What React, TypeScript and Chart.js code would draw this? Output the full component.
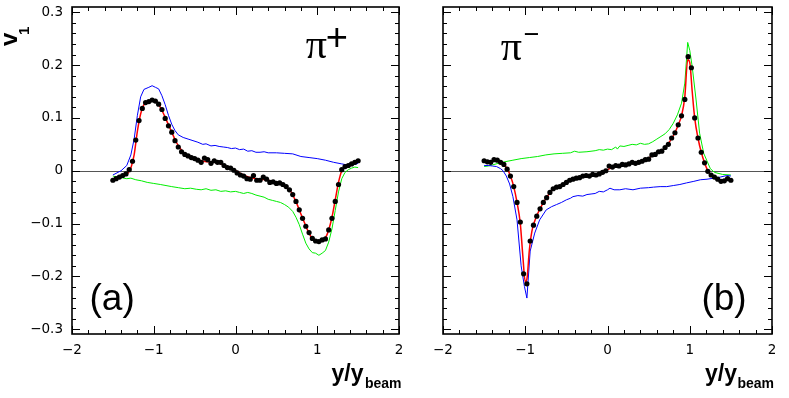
import React, { useEffect, useRef } from 'react';
import { Chart, registerables } from 'chart.js';

Chart.register(...registerables);

// ---------- data ----------
const binX = [
  -1.50, -1.46, -1.42, -1.38, -1.34, -1.30, -1.26, -1.22, -1.18, -1.14, -1.10, -1.06, -1.02, -0.98, -0.94, -0.90, -0.86, -0.82, -0.78,
  -0.74, -0.70, -0.66, -0.62, -0.58, -0.54, -0.50, -0.46, -0.42, -0.38, -0.34, -0.30, -0.26, -0.22, -0.18, -0.14, -0.10, -0.06, -0.02,
  0.02, 0.06, 0.10, 0.14, 0.18, 0.22, 0.26, 0.30, 0.34, 0.38, 0.42, 0.46, 0.50, 0.54, 0.58, 0.62, 0.66, 0.70, 0.74, 0.78,
  0.82, 0.86, 0.90, 0.94, 0.98, 1.02, 1.06, 1.10, 1.14, 1.18, 1.22, 1.26, 1.30, 1.34, 1.38, 1.42, 1.46, 1.50,
];

const piPlusV1 = [
  -0.018, -0.015, -0.012, -0.009, -0.006, 0.002, 0.018, 0.058, 0.095, 0.118, 0.129, 0.131, 0.134, 0.132, 0.126, 0.116, 0.099, 0.085, 0.073,
  0.057, 0.045, 0.036, 0.031, 0.028, 0.025, 0.023, 0.020, 0.016, 0.024, 0.021, 0.014, 0.019, 0.016, 0.016, 0.010, 0.006, 0.005, 0.001,
  -0.004, -0.008, -0.010, -0.015, -0.016, -0.009, -0.018, -0.018, -0.012, -0.016, -0.022, -0.021, -0.024, -0.023, -0.026, -0.030, -0.036, -0.045, -0.058, -0.074,
  -0.090, -0.105, -0.117, -0.128, -0.133, -0.134, -0.131, -0.129, -0.112, -0.090, -0.058, -0.026, 0.002, 0.008, 0.010, 0.013, 0.016, 0.019,
];

const piMinusV1 = [
  0.019, 0.017, 0.016, 0.021, 0.020, 0.016, 0.012, 0.003, -0.010, -0.030, -0.060, -0.097, -0.195, -0.214, -0.133, -0.103, -0.086, -0.072, -0.060,
  -0.051, -0.041, -0.034, -0.031, -0.030, -0.026, -0.022, -0.018, -0.016, -0.014, -0.013, -0.010, -0.009, -0.010, -0.007, -0.008, -0.006, -0.003, 0.000,
  0.009, 0.007, 0.010, 0.009, 0.012, 0.011, 0.013, 0.016, 0.014, 0.016, 0.018, 0.021, 0.022, 0.030, 0.031, 0.036, 0.037, 0.044, 0.050, 0.062,
  0.072, 0.087, 0.104, 0.135, 0.216, 0.195, 0.100, 0.062, 0.035, 0.015, -0.001, -0.008, -0.012, -0.016, -0.020, -0.019, -0.015, -0.018,
];

// fit curves (red)
const piPlusFitX = [-1.50, -1.40, -1.32, -1.28, -1.24, -1.20, -1.16, -1.12, -1.06, -1.00, -0.96, -0.92, -0.88, -0.84, -0.80, -0.76, -0.72, -0.68, -0.64, -0.58, -0.50, -0.42, -0.34, -0.26, -0.18, -0.10, -0.02, 0.06, 0.14, 0.22, 0.30, 0.40, 0.50, 0.58, 0.64, 0.68, 0.72, 0.76, 0.80, 0.84, 0.88, 0.92, 0.96, 1.00, 1.06, 1.10, 1.14, 1.18, 1.22, 1.26, 1.30, 1.34, 1.42, 1.50];
const piPlusFitY = [-0.018, -0.012, -0.005, 0.005, 0.030, 0.075, 0.108, 0.125, 0.132, 0.134, 0.130, 0.120, 0.108, 0.094, 0.080, 0.066, 0.053, 0.043, 0.035, 0.029, 0.024, 0.019, 0.017, 0.016, 0.013, 0.007, 0.002, -0.005, -0.011, -0.014, -0.016, -0.018, -0.022, -0.027, -0.033, -0.040, -0.052, -0.066, -0.082, -0.097, -0.112, -0.124, -0.131, -0.134, -0.132, -0.127, -0.112, -0.088, -0.055, -0.022, 0.000, 0.008, 0.013, 0.019];

const piMinusFitX = [-1.50, -1.44, -1.38, -1.32, -1.26, -1.22, -1.18, -1.14, -1.10, -1.06, -1.03, -1.00, -0.98, -0.95, -0.92, -0.88, -0.84, -0.80, -0.76, -0.72, -0.68, -0.62, -0.56, -0.48, -0.40, -0.30, -0.20, -0.10, 0.00, 0.10, 0.20, 0.30, 0.40, 0.48, 0.56, 0.64, 0.70, 0.76, 0.82, 0.86, 0.90, 0.94, 0.975, 1.00, 1.03, 1.06, 1.10, 1.14, 1.18, 1.22, 1.28, 1.36, 1.44, 1.50];
const piMinusFitY = [0.018, 0.018, 0.019, 0.018, 0.012, 0.004, -0.010, -0.030, -0.060, -0.100, -0.160, -0.210, -0.205, -0.150, -0.115, -0.093, -0.078, -0.066, -0.055, -0.046, -0.038, -0.031, -0.027, -0.020, -0.015, -0.011, -0.008, -0.005, 0.002, 0.009, 0.012, 0.015, 0.017, 0.022, 0.030, 0.036, 0.044, 0.056, 0.072, 0.087, 0.104, 0.140, 0.210, 0.205, 0.150, 0.100, 0.062, 0.035, 0.015, 0.000, -0.010, -0.017, -0.018, -0.018];

// model curves (blue / green)
const piPlusBlueX = [-1.50, -1.40, -1.33, -1.28, -1.24, -1.20, -1.16, -1.12, -1.06, -1.02, -0.98, -0.94, -0.90, -0.86, -0.82, -0.78, -0.74, -0.70, -0.64, -0.58, -0.52, -0.46, -0.40, -0.36, -0.30, -0.25, -0.20, -0.15, -0.10, -0.05, 0.00, 0.05, 0.10, 0.15, 0.20, 0.25, 0.30, 0.35, 0.40, 0.50, 0.60, 0.70, 0.80, 0.90, 1.00, 1.10, 1.20, 1.30, 1.40, 1.46, 1.50];
const piPlusBlueY = [-0.008, 0.000, 0.010, 0.030, 0.060, 0.105, 0.140, 0.154, 0.158, 0.161, 0.158, 0.155, 0.142, 0.125, 0.105, 0.088, 0.076, 0.068, 0.063, 0.060, 0.057, 0.054, 0.050, 0.051, 0.047, 0.048, 0.046, 0.045, 0.044, 0.042, 0.043, 0.040, 0.041, 0.037, 0.038, 0.035, 0.035, 0.036, 0.034, 0.034, 0.033, 0.032, 0.027, 0.025, 0.023, 0.020, 0.016, 0.013, 0.010, 0.012, 0.014];

const piPlusGreenX = [-1.50, -1.45, -1.40, -1.33, -1.28, -1.22, -1.15, -1.08, -1.00, -0.92, -0.85, -0.78, -0.70, -0.62, -0.55, -0.48, -0.42, -0.36, -0.30, -0.24, -0.18, -0.12, -0.06, 0.00, 0.05, 0.10, 0.15, 0.20, 0.25, 0.30, 0.35, 0.40, 0.45, 0.50, 0.55, 0.60, 0.65, 0.70, 0.74, 0.78, 0.82, 0.86, 0.90, 0.94, 0.98, 1.02, 1.06, 1.10, 1.14, 1.18, 1.22, 1.26, 1.30, 1.34, 1.38, 1.42, 1.46, 1.50];
const piPlusGreenY = [-0.010, -0.012, -0.013, -0.015, -0.014, -0.017, -0.019, -0.022, -0.024, -0.026, -0.028, -0.030, -0.032, -0.034, -0.033, -0.035, -0.036, -0.034, -0.037, -0.036, -0.039, -0.038, -0.040, -0.039, -0.041, -0.043, -0.041, -0.043, -0.046, -0.048, -0.050, -0.054, -0.056, -0.058, -0.060, -0.064, -0.069, -0.077, -0.088, -0.102, -0.120, -0.137, -0.148, -0.155, -0.156, -0.160, -0.156, -0.151, -0.135, -0.110, -0.075, -0.040, -0.015, -0.003, 0.002, 0.005, 0.007, 0.006];

const piMinusBlueX = [-1.50, -1.45, -1.40, -1.35, -1.30, -1.27, -1.23, -1.19, -1.15, -1.10, -1.05, -1.01, -0.98, -0.94, -0.885, -0.825, -0.745, -0.68, -0.62, -0.56, -0.50, -0.45, -0.42, -0.36, -0.30, -0.25, -0.20, -0.15, -0.10, -0.05, 0.00, 0.03, 0.08, 0.15, 0.22, 0.31, 0.40, 0.50, 0.56, 0.64, 0.72, 0.80, 0.88, 0.96, 1.05, 1.13, 1.21, 1.29, 1.37, 1.45, 1.50];
const piMinusBlueY = [0.010, 0.010, 0.009, 0.008, 0.004, 0.000, -0.010, -0.025, -0.049, -0.093, -0.180, -0.219, -0.241, -0.152, -0.118, -0.093, -0.074, -0.068, -0.064, -0.060, -0.055, -0.052, -0.049, -0.047, -0.048, -0.045, -0.044, -0.043, -0.039, -0.040, -0.036, -0.033, -0.036, -0.036, -0.034, -0.036, -0.033, -0.032, -0.031, -0.030, -0.030, -0.028, -0.026, -0.023, -0.020, -0.017, -0.016, -0.014, -0.012, -0.009, -0.010];

const piMinusGreenX = [-1.50, -1.45, -1.40, -1.33, -1.25, -1.15, -1.05, -0.95, -0.85, -0.75, -0.65, -0.55, -0.45, -0.40, -0.35, -0.25, -0.15, -0.10, -0.05, 0.00, 0.05, 0.10, 0.12, 0.15, 0.20, 0.25, 0.30, 0.35, 0.40, 0.45, 0.50, 0.55, 0.60, 0.65, 0.70, 0.75, 0.80, 0.85, 0.90, 0.94, 0.975, 1.00, 1.03, 1.077, 1.12, 1.17, 1.25, 1.30, 1.40, 1.50];
const piMinusGreenY = [0.008, 0.009, 0.011, 0.014, 0.017, 0.020, 0.023, 0.025, 0.027, 0.030, 0.032, 0.033, 0.034, 0.037, 0.035, 0.036, 0.038, 0.040, 0.039, 0.041, 0.040, 0.045, 0.041, 0.047, 0.046, 0.048, 0.050, 0.049, 0.052, 0.050, 0.051, 0.055, 0.060, 0.065, 0.070, 0.078, 0.090, 0.106, 0.128, 0.166, 0.243, 0.228, 0.197, 0.134, 0.071, 0.033, 0.004, -0.003, -0.007, -0.008];

// axes
const xTickValues = [-2, -1, 0, 1, 2];
const xTickLabels = ['\u22122', '\u22121', '0', '1', '2'];
const yTickValues = [-0.3, -0.2, -0.1, 0, 0.1, 0.2, 0.3];
const yTickLabels = ['\u22120.3', '\u22120.2', '\u22120.1', '0', '0.1', '0.2', '0.3'];
const xRange = [-2, 2];
const yRange = [-0.309, 0.31];
const xMinorStep = 0.2;
const yMinorStep = 0.02;

const pts = (xs: number[], ys: number[]) => xs.map((x, i) => ({ x, y: ys[i] }));

const framePlugin = {
  id: 'frameTicks',
  beforeDatasetsDraw(chart: any) {
    const { ctx, chartArea: a, scales } = chart;
    const y0 = Math.round(scales.y.getPixelForValue(0)) + 0.5;
    ctx.save();
    ctx.strokeStyle = '#555';
    ctx.lineWidth = 1;
    ctx.beginPath();
    ctx.moveTo(a.left, y0);
    ctx.lineTo(a.right, y0);
    ctx.stroke();
    ctx.restore();
  },
  afterDraw(chart: any) {
    const { ctx, chartArea: a, scales } = chart;
    const xs = scales.x;
    const ys = scales.y;
    ctx.save();
    ctx.strokeStyle = '#000';
    ctx.lineWidth = 1;
    ctx.beginPath();
    const nx = Math.round((xRange[1] - xRange[0]) / xMinorStep);
    for (let i = 0; i <= nx; i++) {
      const v = xRange[0] + i * xMinorStep;
      const major = Math.abs(v - Math.round(v)) < 1e-6;
      const len = major ? 8 : 4;
      const px = Math.round(xs.getPixelForValue(v)) + 0.5;
      ctx.moveTo(px, a.bottom);
      ctx.lineTo(px, a.bottom - len);
      ctx.moveTo(px, a.top);
      ctx.lineTo(px, a.top + len);
    }
    const ny = Math.round(0.6 / yMinorStep);
    for (let i = 0; i <= ny; i++) {
      const v = -0.3 + i * yMinorStep;
      const major = Math.abs(v * 10 - Math.round(v * 10)) < 1e-6;
      const len = major ? 8 : 4;
      const py = Math.round(ys.getPixelForValue(v)) + 0.5;
      ctx.moveTo(a.left, py);
      ctx.lineTo(a.left + len, py);
      ctx.moveTo(a.right, py);
      ctx.lineTo(a.right - len, py);
    }
    ctx.stroke();
    ctx.lineWidth = 1.6;
    ctx.strokeRect(a.left, a.top, a.right - a.left, a.bottom - a.top);
    ctx.restore();
  },
};

const tickFont = { family: 'DejaVu Sans', size: 13.5 };

function buildChart(canvas: HTMLCanvasElement, opt: {
  points: number[]; fitX: number[]; fitY: number[]; blueX: number[]; blueY: number[]; greenX: number[]; greenY: number[];
  yAxisWidth: number; padRight: number; showY: boolean;
}) {
  return new Chart(canvas, {
    type: 'scatter',
    data: {
      datasets: [
        {
          data: pts(binX, opt.points),
          showLine: false,
          pointRadius: 2.6,
          pointBackgroundColor: '#000',
          pointBorderWidth: 0,
          borderColor: '#000',
        },
        {
          data: pts(opt.fitX, opt.fitY),
          showLine: true,
          borderColor: '#ff0000',
          borderWidth: 1.5,
          pointRadius: 0,
          cubicInterpolationMode: 'monotone',
        },
        {
          data: pts(opt.blueX, opt.blueY),
          showLine: true,
          borderColor: '#0000ff',
          borderWidth: 1,
          pointRadius: 0,
          tension: 0,
        },
        {
          data: pts(opt.greenX, opt.greenY),
          showLine: true,
          borderColor: '#00ee00',
          borderWidth: 1,
          pointRadius: 0,
          tension: 0,
        },
      ] as any,
    },
    options: {
      animation: false,
      responsive: false,
      devicePixelRatio: 1,
      events: [],
      layout: { padding: { left: 0, right: opt.padRight, top: 7, bottom: 0 } },
      plugins: { legend: { display: false }, tooltip: { enabled: false } },
      scales: {
        x: {
          type: 'linear',
          min: xRange[0],
          max: xRange[1],
          grid: { display: false, drawTicks: false, tickLength: 0 },
          border: { display: false },
          afterBuildTicks: (s: any) => { s.ticks = xTickValues.map((v) => ({ value: v })); },
          afterFit: (s: any) => { s.height = 64; s.paddingLeft = 0; s.paddingRight = 0; },
          ticks: {
            callback: (v: any) => xTickLabels[xTickValues.indexOf(Number(v))],
            font: tickFont,
            color: '#000',
            padding: 8,
            maxRotation: 0,
            autoSkip: false,
          },
        },
        y: {
          type: 'linear',
          min: yRange[0],
          max: yRange[1],
          grid: { display: false, drawTicks: false, tickLength: 0 },
          border: { display: false },
          afterBuildTicks: (s: any) => { s.ticks = yTickValues.map((v) => ({ value: v })); },
          afterFit: (s: any) => { s.width = opt.yAxisWidth; s.paddingTop = 0; s.paddingBottom = 0; },
          ticks: {
            display: opt.showY,
            callback: (v: any) => {
              const i = yTickValues.findIndex((t) => Math.abs(t - Number(v)) < 1e-9);
              return i >= 0 ? yTickLabels[i] : '';
            },
            font: tickFont,
            color: '#000',
            padding: 9,
            autoSkip: false,
          },
        },
      },
    } as any,
    plugins: [framePlugin],
  });
}

const abs = (left: number, top: number, extra: React.CSSProperties = {}): React.CSSProperties => ({
  position: 'absolute', left, top, lineHeight: 1, whiteSpace: 'nowrap', color: '#000', ...extra,
});

export default function App() {
  const leftRef = useRef<HTMLCanvasElement>(null);
  const rightRef = useRef<HTMLCanvasElement>(null);

  useEffect(() => {
    const c1 = buildChart(leftRef.current!, {
      points: piPlusV1, fitX: piPlusFitX, fitY: piPlusFitY,
      blueX: piPlusBlueX, blueY: piPlusBlueY, greenX: piPlusGreenX, greenY: piPlusGreenY,
      yAxisWidth: 72, padRight: 21, showY: true,
    });
    const c2 = buildChart(rightRef.current!, {
      points: piMinusV1, fitX: piMinusFitX, fitY: piMinusFitY,
      blueX: piMinusBlueX, blueY: piMinusBlueY, greenX: piMinusGreenX, greenY: piMinusGreenY,
      yAxisWidth: 43, padRight: 17, showY: false,
    });
    return () => { c1.destroy(); c2.destroy(); };
  }, []);

  const sans = '"Liberation Sans", Arial, Helvetica, sans-serif';
  const serif = '"Liberation Serif", "Times New Roman", serif';

  return (
    <div style={{ position: 'fixed', left: 0, top: 0, width: 789, height: 398, background: '#fff', overflow: 'hidden', fontFamily: sans }}>
      <canvas ref={leftRef} width={420} height={398} style={{ position: 'absolute', left: 0, top: 0, width: 420, height: 398 }} />
      <canvas ref={rightRef} width={389} height={398} style={{ position: 'absolute', left: 400, top: 0, width: 389, height: 398 }} />

      {/* y-axis title v1 (rotated) */}
      <div style={abs(-3.3, 45.5, { fontSize: 24, fontWeight: 'bold', transformOrigin: '0 0', transform: 'rotate(-90deg)' })}>v</div>
      <div style={abs(16.3, 34.6, { fontSize: 15, fontWeight: 'bold', transformOrigin: '0 0', transform: 'rotate(-90deg)' })}>1</div>

      {/* panel labels */}
      <div style={abs(305.7, 22.8, { fontSize: 42, fontFamily: serif })}>π</div>
      <div style={abs(325.8, 17.7, { fontSize: 38 })}>+</div>
      <div style={abs(500.7, 24.8, { fontSize: 42, fontFamily: serif })}>π</div>
      <div style={abs(523.8, 20.5, { fontSize: 27 })}>−</div>

      <div style={abs(89.5, 279, { fontSize: 37 })}>(a)</div>
      <div style={abs(701.4, 279, { fontSize: 37 })}>(b)</div>

      {/* x-axis titles */}
      <div style={abs(331.5, 362, { fontSize: 23, fontWeight: 'bold' })}>y/y</div>
      <div style={abs(365, 376, { fontSize: 14, fontWeight: 'bold' })}>beam</div>
      <div style={abs(705, 362, { fontSize: 23, fontWeight: 'bold' })}>y/y</div>
      <div style={abs(737.5, 376, { fontSize: 14, fontWeight: 'bold' })}>beam</div>
    </div>
  );
}
